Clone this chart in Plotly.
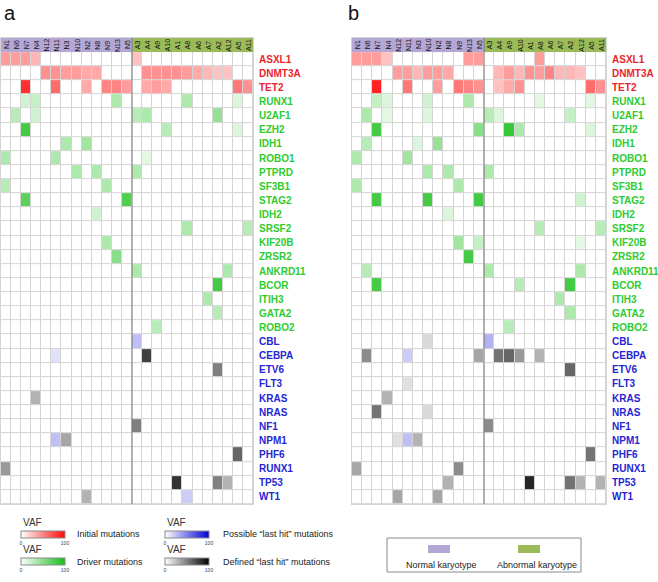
import numpy as np
import plotly.graph_objects as go

# ---------------- data ----------------
normal_samples = ["N1", "N6", "N7", "N4", "N12", "N11", "N3", "N10", "N2", "N8", "N9", "N13", "N5"]
abnormal_samples = ["A3", "A4", "A9", "A10", "A1", "A8", "A6", "A7", "A2", "A12", "A5", "A11"]
samples = normal_samples + abnormal_samples

initial_genes = ["ASXL1", "DNMT3A", "TET2"]
driver_genes = ["RUNX1", "U2AF1", "EZH2", "IDH1", "ROBO1", "PTPRD", "SF3B1", "STAG2", "IDH2",
                "SRSF2", "KIF20B", "ZRSR2", "ANKRD11", "BCOR", "ITIH3", "GATA2", "ROBO2"]
lasthit_genes = ["CBL", "CEBPA", "ETV6", "FLT3", "KRAS", "NRAS", "NF1", "NPM1", "PHF6",
                 "RUNX1", "TP53", "WT1"]

# panel a (VAF %)
a_initial = {
    "ASXL1": {"N1": 40, "N6": 40, "N7": 40, "N4": 30, "A3": 25},
    "DNMT3A": {"N12": 45, "N11": 45, "N3": 40, "N10": 40, "N2": 35, "N8": 35,
               "A4": 45, "A9": 45, "A10": 45, "A1": 45, "A8": 40, "A6": 35, "A7": 30, "A2": 25, "A12": 25},
    "TET2": {"N7": 85, "N11": 60, "N2": 35, "N9": 50, "N13": 50, "N5": 40,
             "A4": 35, "A9": 40, "A10": 35, "A5": 55, "A11": 45},
}
a_driver = {
    "RUNX1": {"N7": 20, "N4": 25, "N13": 35, "A8": 35, "A5": 15},
    "U2AF1": {"N6": 30, "N4": 20, "A3": 30, "A4": 35, "A2": 45},
    "EZH2": {"N7": 80, "A10": 30, "A5": 15},
    "IDH1": {"N3": 35, "N2": 40},
    "ROBO1": {"N1": 35, "N11": 35, "A4": 12},
    "PTPRD": {"N10": 35, "N8": 35, "A3": 35},
    "SF3B1": {"N1": 30, "N9": 35},
    "STAG2": {"N7": 70, "N5": 75},
    "IDH2": {"N8": 20},
    "SRSF2": {"A8": 35, "A11": 30},
    "KIF20B": {"N9": 35},
    "ZRSR2": {"N13": 50},
    "ANKRD11": {"A3": 35, "A12": 35},
    "BCOR": {"A2": 80},
    "ITIH3": {"A7": 35},
    "GATA2": {"A2": 30},
    "ROBO2": {"A9": 30},
}
a_possible = {
    "CBL": {"A3": 25},
    "CEBPA": {"N11": 12},
    "NPM1": {"N11": 25},
    "WT1": {"A8": 20},
}
a_defined = {
    "CEBPA": {"A4": 75},
    "ETV6": {"A2": 50},
    "KRAS": {"N4": 30},
    "NF1": {"A3": 50},
    "NPM1": {"N3": 35},
    "PHF6": {"A5": 60},
    "RUNX1": {"N1": 40},
    "TP53": {"A1": 80, "A2": 50, "A12": 30},
    "WT1": {"N2": 30},
}

# panel b (VAF %)
b_initial = {
    "ASXL1": {"N1": 40, "N6": 40, "N7": 40, "N4": 25, "N13": 40, "N5": 40, "A8": 40},
    "DNMT3A": {"N12": 40, "N11": 40, "N3": 30, "N10": 40, "N2": 40, "N8": 35,
               "A4": 30, "A9": 40, "A10": 30, "A1": 45, "A8": 40, "A6": 50, "A7": 30, "A2": 30, "A12": 25},
    "TET2": {"N7": 90, "N11": 55, "N2": 40, "N9": 55, "N13": 50, "N5": 45,
             "A4": 25, "A9": 35, "A10": 45, "A5": 60, "A11": 45},
}
b_driver = {
    "RUNX1": {"N7": 25, "N4": 15, "N10": 20, "N13": 35, "A8": 12, "A5": 12},
    "U2AF1": {"N6": 35, "N4": 12, "N10": 15, "A3": 30, "A4": 15, "A2": 25},
    "EZH2": {"N7": 80, "N5": 50, "A9": 85, "A10": 35, "A5": 15},
    "IDH1": {"N6": 30, "N3": 15, "N2": 45},
    "ROBO1": {"N1": 35, "N11": 40},
    "PTPRD": {"N10": 35, "N8": 35, "A3": 35},
    "SF3B1": {"N1": 35, "N9": 35},
    "STAG2": {"N7": 80, "N10": 80, "N5": 80, "A12": 20},
    "IDH2": {"N8": 15},
    "SRSF2": {"A8": 30, "A11": 30},
    "KIF20B": {"N9": 40, "N5": 25, "A12": 12},
    "ZRSR2": {"N13": 80},
    "ANKRD11": {"N6": 30, "A3": 35, "A12": 35},
    "BCOR": {"N7": 80, "A10": 30, "A2": 80},
    "ITIH3": {"A7": 35},
    "GATA2": {"A2": 35},
    "ROBO2": {"A9": 30},
}
b_possible = {
    "CBL": {"A3": 30},
    "CEBPA": {"N11": 20},
    "NPM1": {"N11": 25},
}
b_defined = {
    "CBL": {"N10": 15},
    "CEBPA": {"N6": 45, "N5": 35, "A4": 55, "A9": 60, "A10": 40, "A8": 30},
    "ETV6": {"A2": 60},
    "FLT3": {"N11": 12},
    "KRAS": {"N4": 30},
    "NRAS": {"N7": 55, "N10": 15},
    "NF1": {"A3": 45},
    "NPM1": {"N12": 12, "N3": 30},
    "PHF6": {"A5": 55},
    "RUNX1": {"N1": 35, "N9": 45},
    "TP53": {"N8": 30, "A1": 85, "A2": 55, "A12": 30, "A11": 30},
    "WT1": {"N12": 35, "N2": 35},
}

# ---------------- styles ----------------
RED, GREEN, BLUE = "#e8262b", "#2ecc2e", "#2626d4"
PURPLE_HDR, GREEN_HDR = "#b4a7d6", "#9bbb59"
GRIDC = "#d4d4d4"
SCALES = {
    "initial": [[0, "#ffffff"], [1, "#ff0a0a"]],
    "driver": [[0, "#ffffff"], [1, "#15bd15"]],
    "possible": [[0, "#ffffff"], [1, "#0000d8"]],
    "defined": [[0, "#ffffff"], [1, "#000000"]],
}

genes = initial_genes + driver_genes + lasthit_genes
n_rows = len(genes)
n_cols = len(samples)
row_offset = {"initial": 0, "driver": len(initial_genes), "lasthit": len(initial_genes) + len(driver_genes)}
group_genes = {"initial": initial_genes, "driver": driver_genes, "lasthit": lasthit_genes}


def build(group, data):
    z = np.full((n_rows, n_cols), np.nan)
    for gi, g in enumerate(group_genes[group]):
        for s, v in data.get(g, {}).items():
            z[row_offset[group] + gi, samples.index(s)] = v
    return z


label_colors = [RED] * len(initial_genes) + [GREEN] * len(driver_genes) + [BLUE] * len(lasthit_genes)
ticktext = ["<b><span style='color:%s'>%s</span></b>" % (c, g) for g, c in zip(genes, label_colors)]

W, H = 658, 582
xs = list(range(n_cols))
ys = list(range(1, n_rows + 1))

fig = go.Figure()

legend_cb = {
    "initial": (21, 531),
    "driver": (21, 558),
    "possible": (165, 531),
    "defined": (165, 558),
}

panels = [
    ("x", "y", a_initial, a_driver, a_possible, a_defined, True),
    ("x2", "y2", b_initial, b_driver, b_possible, b_defined, False),
]

for xa, ya, d_init, d_drv, d_pos, d_def, show in panels:
    # blank grid
    fig.add_trace(go.Heatmap(x=xs, y=ys, z=np.zeros((n_rows, n_cols)),
                             colorscale=[[0, "#ffffff"], [1, "#ffffff"]], showscale=False,
                             xgap=1, ygap=1, hoverinfo="skip", xaxis=xa, yaxis=ya))
    # karyotype header
    hdr = [[0] * len(normal_samples) + [1] * len(abnormal_samples)]
    fig.add_trace(go.Heatmap(x=xs, y=[0], z=hdr, zmin=0, zmax=1,
                             colorscale=[[0, PURPLE_HDR], [0.5, PURPLE_HDR], [0.5, GREEN_HDR], [1, GREEN_HDR]],
                             showscale=False, hoverinfo="skip", xaxis=xa, yaxis=ya))
    zs = {
        "initial": build("initial", d_init),
        "driver": build("driver", d_drv),
        "possible": build("lasthit", d_pos),
        "defined": build("lasthit", d_def),
    }
    for key, z in zs.items():
        cx, cy = legend_cb[key]
        fig.add_trace(go.Heatmap(
            x=xs, y=ys, z=z, zmin=0, zmax=100, colorscale=SCALES[key],
            xgap=1, ygap=1, hoverongaps=False, xaxis=xa, yaxis=ya,
            showscale=show,
            colorbar=dict(orientation="h", x=cx / W, xanchor="left", y=1 - cy / H, yanchor="top",
                          len=44, lenmode="pixels", thickness=7, thicknessmode="pixels",
                          outlinewidth=1, outlinecolor="#8a8a8a", xpad=0, ypad=0,
                          tickvals=[0, 100], ticktext=["0", "100"], ticks="",
                          tickfont=dict(size=5, color="#444")),
        ))
    for i, s in enumerate(samples):
        fig.add_annotation(x=i, y=0, xref=xa, yref=ya, text=s, textangle=-90, showarrow=False,
                           font=dict(size=7, color="#111", family="Liberation Sans, Arial"))
    sep = len(normal_samples) - 0.5
    fig.add_shape(type="line", xref=xa, yref=ya, x0=sep, x1=sep, y0=-0.5, y1=n_rows + 0.5,
                  line=dict(color="#7a7a7a", width=1))

ax_common = dict(range=[-0.5, n_cols - 0.5], showgrid=False, zeroline=False, showticklabels=False,
                 showline=True, mirror=True, linecolor=GRIDC, linewidth=1, ticks="", automargin=False)
ay_common = dict(range=[n_rows + 0.5, -0.5], showgrid=False, zeroline=False, side="right",
                 tickvals=ys, ticktext=ticktext, ticks="", ticklabelstandoff=3, automargin=False,
                 tickfont=dict(size=10, family="Liberation Sans, Arial", color="#000"),
                 showline=True, mirror=True, linecolor=GRIDC, linewidth=1,
                 domain=[1 - 504 / H, 1 - 38 / H])

fig.update_layout(
    width=W, height=H, margin=dict(l=0, r=0, t=0, b=0, autoexpand=False),
    paper_bgcolor="white", plot_bgcolor=GRIDC,
    xaxis=dict(domain=[1 / W, 253 / W], anchor="y", **ax_common),
    xaxis2=dict(domain=[352 / W, 606 / W], anchor="y2", **ax_common),
    yaxis=dict(anchor="x", **ay_common),
    yaxis2=dict(anchor="x2", **ay_common),
    font=dict(family="Liberation Sans, Arial"),
)

# panel letters
for lbl, px in (("a", 2), ("b", 346)):
    fig.add_annotation(x=px / W, y=1, xref="paper", yref="paper", text=lbl, showarrow=False,
                       xanchor="left", yanchor="top", font=dict(size=20, color="#111"))

legend_font = "Liberation Sans, Arial"
# "VAF" titles above colour bars
for px, py in ((21, 522), (21, 549), (165, 522), (165, 549)):
    fig.add_annotation(x=px / W, y=1 - py / H, xref="paper", yref="paper", text="VAF", showarrow=False,
                       xanchor="left", yanchor="middle", font=dict(size=10, color="#333", family=legend_font))

# legend texts for VAF colorbars
for txt, px, py in (("Initial mutations", 75, 534), ("Driver mutations", 75, 562),
                    ("Possible “last hit” mutations", 221, 534), ("Defined “last hit” mutations", 221, 562)):
    fig.add_annotation(x=px / W, y=1 - py / H, xref="paper", yref="paper", text=txt, showarrow=False,
                       xanchor="left", yanchor="middle", font=dict(size=9, color="#222", family=legend_font))

# karyotype legend box
fig.add_shape(type="rect", xref="paper", yref="paper", x0=387 / W, x1=581 / W, y0=1 - 572 / H, y1=1 - 538 / H,
              line=dict(color="#8a8a8a", width=1), fillcolor="rgba(0,0,0,0)")
for txt, col, sx, tx in (("Normal karyotype", PURPLE_HDR, 439, 442), ("Abnormal karyotype", GREEN_HDR, 529, 537)):
    fig.add_shape(type="rect", xref="paper", yref="paper", x0=(sx - 11) / W, x1=(sx + 11) / W,
                  y0=1 - 553 / H, y1=1 - 545 / H, line=dict(width=0), fillcolor=col)
    fig.add_annotation(x=tx / W, y=1 - 565 / H, xref="paper", yref="paper", text=txt, showarrow=False,
                       xanchor="center", yanchor="middle", font=dict(size=9, color="#222", family=legend_font))

fig.write_html("out.html", config={"displayModeBar": False},
               post_script="document.body.style.margin='0';")
